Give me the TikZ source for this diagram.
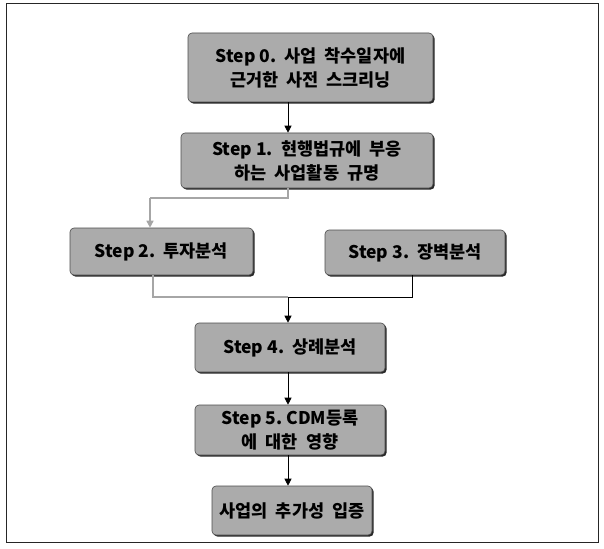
\documentclass[tikz,border=0pt]{standalone}
\usepackage{fontspec}
\newfontfamily\kr{Noto Sans CJK KR Black}
\usetikzlibrary{shadows,arrows.meta,calc}
\begin{document}
\begin{tikzpicture}[x=1pt,y=-1pt,
  box/.style={draw=black!70, line width=0.6pt, fill=black!33, rounded corners=4pt,
    drop shadow={shadow xshift=1.6pt, shadow yshift=-1.6pt, fill=black!85, opacity=1},
    align=center, inner sep=0pt, font=\kr\fontsize{17.5}{24}\selectfont},
  conn/.style={draw=black, line width=0.8pt},
  lconn/.style={draw=black!35, line width=1.6pt},
  arr/.style={-{Triangle[length=7pt,width=7pt]}},
]
\useasboundingbox (0,0) rectangle (604,548);
\draw[black!85, line width=1pt] (6,4) rectangle (598,542);

\node[box, minimum width=245, minimum height=69] (s0) at (310.5,67.5) {Step 0.\ \ 사업 \ 착수일자에\\근거한 \ 사전 \ 스크리닝};
\node[box, minimum width=252, minimum height=55] (s1) at (307,160.5) {Step 1.\ \ 현행법규에 \ 부응\\하는 \ 사업활동 \ 규명};
\node[box, minimum width=183, minimum height=47] (s2) at (161.5,251.5) {Step 2.\ \ 투자분석};
\node[box, minimum width=180, minimum height=45] (s3) at (415,252.5) {Step 3.\ \ 장벽분석};
\node[box, minimum width=190, minimum height=49] (s4) at (290,347.5) {Step 4.\ \ 상례분석};
\node[box, minimum width=190, minimum height=50] (s5) at (290,430) {Step 5.\ CDM등록\\에 \ 대한 \ 영향};
\node[box, minimum width=160, minimum height=49] (s6) at (292,510.5) {사업의 \ 추가성 \ 입증};

\coordinate (cx) at (288,0);
\coordinate (j1) at (288,198);
\coordinate (j1l) at (150,198);
\coordinate (j2l) at (153,297);
\coordinate (j2) at (288,297);
\coordinate (j2r) at (412,297);

\draw[conn,arr] (s0.south -| cx) -- (s1.north -| cx);
\draw[lconn] (s1.south -| cx) -- (j1) -- (j1l);
\draw[lconn,arr] (j1l) -- (s2.north -| j1l);
\draw[lconn] (s2.south -| j2l) -- (j2l) -- (j2);
\draw[conn] (s3.south -| j2r) -- (j2r) -- (j2);
\draw[conn,arr] (j2) -- (s4.north -| cx);
\draw[conn,arr] (s4.south -| cx) -- (s5.north -| cx);
\draw[conn,arr] (s5.south -| cx) -- (s6.north -| cx);
\end{tikzpicture}
\end{document}
